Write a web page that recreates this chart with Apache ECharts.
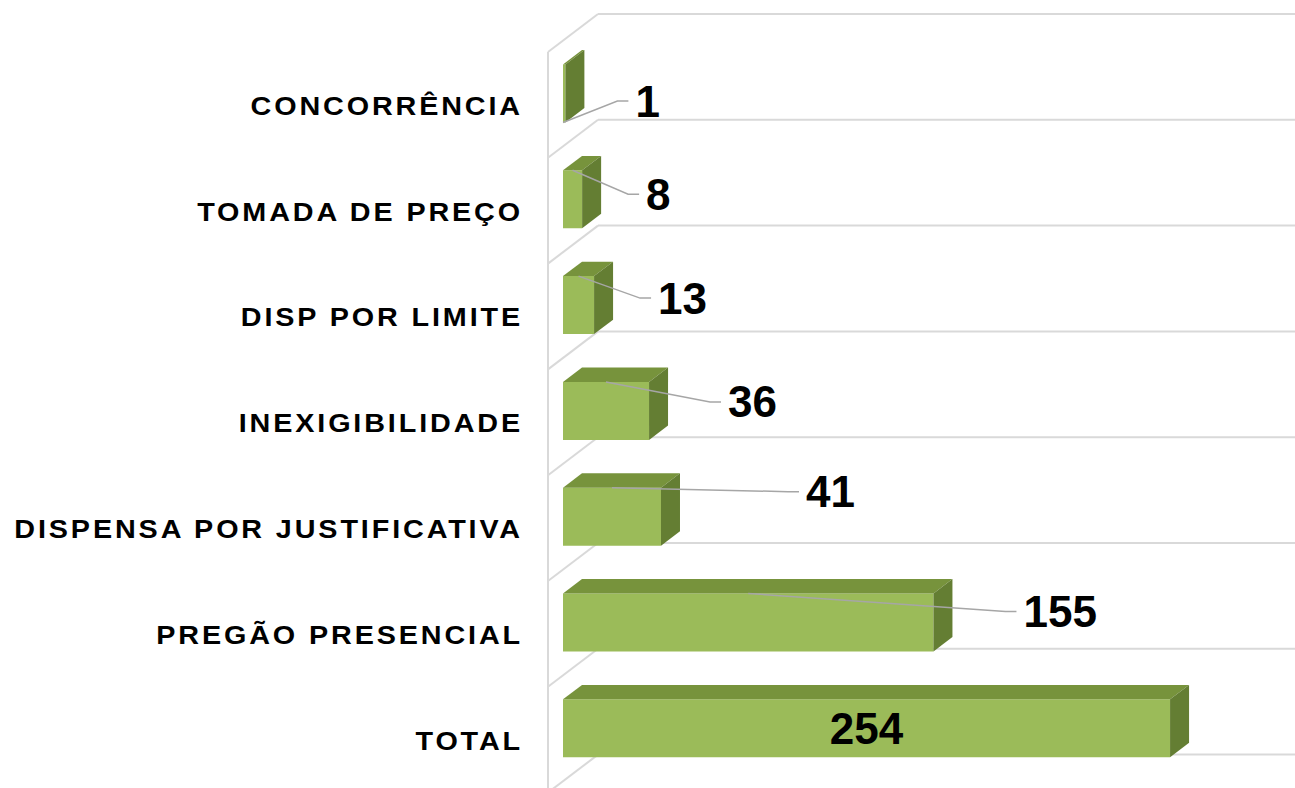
<!DOCTYPE html>
<html><head><meta charset="utf-8">
<script src="https://cdn.jsdelivr.net/npm/echarts@6/dist/echarts.min.js"></script>
<style>
html,body{margin:0;padding:0;background:#fff;}
#chart{width:1295px;height:788px;}
#chart text[style*="25px"]{letter-spacing:2.5px;}
</style></head><body><div id="chart"></div>
<script>
// ---- data ----
const categories = ['CONCORRÊNCIA','TOMADA DE PREÇO','DISP POR LIMITE','INEXIGIBILIDADE','DISPENSA POR JUSTIFICATIVA','PREGÃO PRESENCIAL','TOTAL'];
const values = [1, 8, 13, 36, 41, 155, 254];
const insideLabel = [false, false, false, false, false, false, true];
const xMax = 300;

// ---- layout / style (not data) ----
const LABEL_DX = [70, 64, 64, 79, 145, 90, 0];
const LABEL_DY = [7.5, -5, -7, -9, -25, -11, 0];
const FRONT = '#9bbb59', TOP = '#77933c', SIDE = '#647e33';
const GRID_COLOR = '#d9d9d9';
const WALL_X = 0.4726, WALL_Y = 0.359;   // full depth vector, in band units
const FRONT_F = 0.3, BAR_DEPTH = 0.38, BAR_H = 0.548;
const FONT_VAL = 'bold 44px "Liberation Sans", Arial, sans-serif';
const FONT_CAT = 'bold 25px "Liberation Sans", Arial, sans-serif';
const CAT_STRETCH = 1.15;

const chart = echarts.init(document.getElementById('chart'), null, {renderer: 'svg'});

function renderWalls(params, api) {
  const band = api.size([0, 1])[1];
  const [x0, yc0] = api.coord([0, 0]);
  const xR = api.coord([xMax, 0])[0];
  const WX = band * WALL_X, WY = band * WALL_Y;
  const n = categories.length;
  const y0 = yc0 - band / 2;
  const lineStyle = {stroke: GRID_COLOR, lineWidth: 2, fill: null};
  const children = [];
  const lx = x0 - FRONT_F * WX;
  children.push({type: 'line', shape: {x1: lx, y1: y0 + FRONT_F * WY, x2: lx, y2: y0 + n * band + FRONT_F * WY}, style: lineStyle});
  for (let k = 0; k <= n; k++) {
    const yk = y0 + k * band;
    const bx = x0 + (1 - FRONT_F) * WX, by = yk - (1 - FRONT_F) * WY;
    children.push({type: 'line', shape: {x1: lx, y1: yk + FRONT_F * WY, x2: bx, y2: by}, style: lineStyle});
    children.push({type: 'line', shape: {x1: bx, y1: by, x2: xR + 60, y2: by}, style: lineStyle});
  }
  // category labels, placed on the front edge of the floor
  categories.forEach((c, k) => {
    const yc = api.coord([0, k])[1];
    children.push({type: 'text', x: x0 - 40, y: yc + FRONT_F * WY + 1.5, scaleX: CAT_STRETCH,
      style: {text: c, x: 0, y: 0, font: FONT_CAT, fill: '#000', align: 'right', verticalAlign: 'middle'}});
  });
  return {type: 'group', children};
}

function renderBar(params, api) {
  const i = params.dataIndex;
  const v = api.value(0), ci = api.value(1);
  const band = api.size([0, 1])[1];
  const [x0, yc] = api.coord([0, ci]);
  const x1 = api.coord([v, ci])[0];
  const h = band * BAR_H;
  const dx = band * WALL_X * BAR_DEPTH, dy = band * WALL_Y * BAR_DEPTH;
  const yt = yc - h / 2, yb = yc + h / 2;
  const children = [
    {type: 'rect', shape: {x: x0, y: yt, width: x1 - x0, height: h}, style: {fill: FRONT}},
    {type: 'polygon', shape: {points: [[x0, yt], [x1, yt], [x1 + dx, yt - dy], [x0 + dx, yt - dy]]}, style: {fill: TOP}},
    {type: 'polygon', shape: {points: [[x1, yt], [x1 + dx, yt - dy], [x1 + dx, yb - dy], [x1, yb]]}, style: {fill: SIDE}}
  ];
  if (insideLabel[i]) {
    children.push({type: 'text', style: {text: String(v), x: (x0 + x1) / 2, y: yc, font: FONT_VAL, fill: '#000', align: 'center', verticalAlign: 'middle'}});
  } else {
    const lxp = x1 + LABEL_DX[i], lyp = yc + LABEL_DY[i];
    const start = lyp > yc ? [x0, yb] : [(x0 + x1) / 2, yt];
    children.push({type: 'polyline', shape: {points: [start, [lxp - 18, lyp], [lxp - 7, lyp]]}, style: {stroke: '#a6a6a6', lineWidth: 1.5, fill: null}});
    children.push({type: 'text', style: {text: String(v), x: lxp, y: lyp, font: FONT_VAL, fill: '#000', align: 'left', verticalAlign: 'middle'}});
  }
  return {type: 'group', children};
}

chart.setOption({
  animation: false,
  backgroundColor: '#ffffff',
  grid: {left: 563, right: 15, top: 40.6, bottom: 6.8, containLabel: false, outerBoundsMode: 'none'},
  xAxis: {type: 'value', min: 0, max: xMax, show: false, splitLine: {show: false}},
  yAxis: {
    type: 'category', data: categories, inverse: true,
    axisLine: {show: false}, axisTick: {show: false}, splitLine: {show: false},
    axisLabel: {show: false}
  },
  series: [
    {type: 'custom', name: 'walls', z: 1, silent: true, renderItem: renderWalls, data: [[0, 0]], clip: false},
    {type: 'custom', name: 'bars', z: 2, renderItem: renderBar, clip: false,
     data: values.map((v, i) => [v, i])}
  ]
});
</script></body></html>
